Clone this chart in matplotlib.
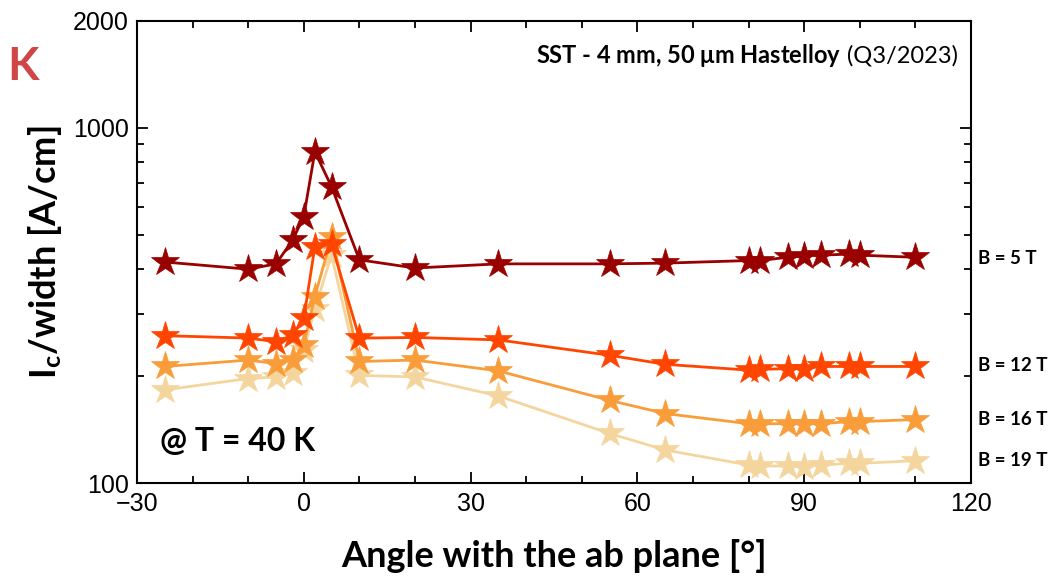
import matplotlib
matplotlib.use('Agg')
import matplotlib.pyplot as plt
from matplotlib.ticker import FixedLocator, NullFormatter

plt.rcParams['font.family'] = ['Lato', 'DejaVu Sans']
plt.rcParams['mathtext.fontset'] = 'custom'
plt.rcParams['mathtext.rm'] = 'Lato'
plt.rcParams['mathtext.bf'] = 'Lato:bold'

# angle with the ab plane (deg)
angle = [-25, -10, -5, -2, 0, 2, 5, 10, 20, 35, 55, 65, 80, 82, 87, 90, 93, 98, 100, 110]

# Ic/width (A/cm) at T = 40 K
ic_5T = [419, 400, 414, 483, 562, 856, 682, 425, 403, 414, 414, 416, 423, 423, 432, 436, 438, 441, 438, 432]
ic_12T = [260, 256, 250, 261, 291, 463, 470, 256, 257, 253, 229, 216, 208, 209, 210, 210, 213, 213, 213, 213]
ic_16T = [213, 222, 217, 222, 245, 335, 494, 220, 222, 207, 171, 157, 147, 147, 147, 147, 147, 149, 149, 151]
ic_19T = [183, 197, 199, 204, 237, 310, 438, 201, 199, 176, 138, 124, 112.5, 111.8, 111.8, 111.3, 112.4, 113.7, 113.7, 115.7]

series = [ic_5T, ic_12T, ic_16T, ic_19T]
labels = ['B = 5 T', 'B = 12 T', 'B = 16 T', 'B = 19 T']
colors = ['#990000', '#FF4500', '#F99D3A', '#F5D59E']
label_y = [430, 214, 151, 115.6]

fig = plt.figure(figsize=(10.56, 5.8), dpi=100)
ax = fig.add_axes([0.1297, 0.1669, 0.7898, 0.7974])

# light series first so darker ones stay on top
for vals, c in zip(series[::-1], colors[::-1]):
    ax.plot(angle, vals, color=c, lw=2, marker='*', markersize=21,
            markeredgecolor=c, markeredgewidth=0.5)

ax.set_yscale('log')
ax.set_xlim(-30, 120)
ax.set_ylim(100, 2000)

ax.xaxis.set_major_locator(FixedLocator([-30, 0, 30, 60, 90, 120]))
ax.xaxis.set_minor_locator(FixedLocator(range(-30, 121, 10)))
ax.yaxis.set_major_locator(FixedLocator([100, 1000, 2000]))
ax.yaxis.set_minor_locator(FixedLocator([200, 300, 400, 500, 600, 700, 800, 900]))
ax.yaxis.set_minor_formatter(NullFormatter())
ax.set_yticklabels(['100', '1000', '2000'])

ax.tick_params(which='both', direction='in', top=True, right=True, width=1.3)
ax.tick_params(which='major', length=8, labelsize=18, pad=6)
ax.tick_params(which='minor', length=5)
for lab in ax.get_xticklabels() + ax.get_yticklabels():
    lab.set_fontfamily('Liberation Sans')
for s in ax.spines.values():
    s.set_linewidth(1.5)

ax.set_xlabel('Angle with the ab plane [°]', fontsize=26, fontweight='bold', labelpad=17)
ax.set_ylabel(r'$\mathbf{I_c}$/width [A/cm]', fontsize=26, fontweight='bold', labelpad=6)

for lab, y in zip(labels, label_y):
    ax.text(1.008, y, lab, transform=ax.get_yaxis_transform(), fontsize=13.5,
            fontweight='bold', va='center', ha='left')

reg = ax.text(0.985, 0.925, ' (Q3/2023)', transform=ax.transAxes, fontsize=17,
              ha='right', va='center')
ax.annotate(r'SST - 4 mm, 50 $\mathbf{\mu}$m Hastelloy', xy=(0, 0.5), xycoords=reg,
            fontsize=17, fontweight='bold', ha='right', va='center')
ax.text(0.028, 0.09, '@ T = 40 K', transform=ax.transAxes, fontsize=23,
        fontweight='bold', ha='left', va='center')

fig.text(0.022, 0.885, 'K', fontsize=33, fontweight='bold', color='#D04545',
         ha='center', va='center')

plt.savefig('out.png', dpi=100)
